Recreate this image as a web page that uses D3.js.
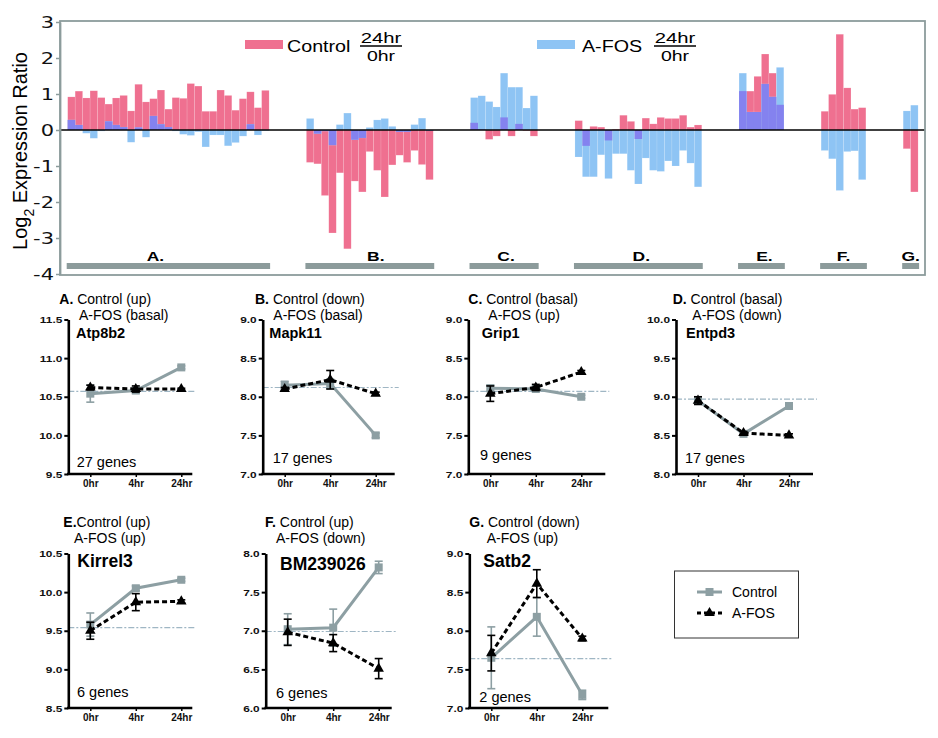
<!DOCTYPE html>
<html lang="en">
<head>
<meta charset="UTF-8">
<title>Control vs A-FOS expression</title>
<script src="https://cdn.jsdelivr.net/npm/d3@7"></script>
<style>
  html, body { margin: 0; padding: 0; background: #fff; }
  svg { display: block; font-family: "Liberation Sans", Arial, sans-serif; }
</style>
</head>
<body>
<svg id="canvas" width="938" height="738"></svg>
<script>
// ---------- data: top chart, log2(24hr/0hr) per gene ----------
let groupNames = ['A.', 'B.', 'C.', 'D.', 'E.', 'F.', 'G.'];

let controlA = [0.92, 1.08, 0.89, 1.09, 0.90, 0.72, 0.89, 0.96, 0.53, 1.27, 0.78, 0.87, 1.11, 0.58, 0.90, 0.88, 1.29, 1.22, 0.52, 0.52, 1.11, 0.96, 0.55, 0.87, 1.06, 0.62, 1.10];
let afosA    = [0.28, 0.14, -0.09, -0.23, -0.03, 0.24, 0.14, 0.08, -0.34, 0.07, -0.20, 0.39, 0.16, 0.08, -0.03, -0.12, -0.15, -0.05, -0.47, -0.14, -0.14, -0.44, -0.35, -0.17, 0.16, -0.14, -0.02];
let controlB = [-0.90, -0.94, -1.82, -2.86, -1.19, -3.30, -1.42, -1.72, -0.60, -1.12, -1.86, -0.97, -0.70, -0.90, -0.57, -0.96, -1.38];
let afosB    = [0.32, -0.10, -0.03, -0.42, 0.15, 0.47, -0.27, -0.22, 0.07, 0.28, 0.32, 0.10, -0.05, -0.05, 0.15, 0.33, -0.02];
let controlC = [0.20, 0.02, -0.26, -0.17, 0.35, -0.17, 0.17, -0.02, -0.17];
let afosC    = [0.90, 0.95, 0.79, 0.64, 1.58, 1.19, 1.19, 0.61, 0.95];
let controlD = [0.26, -0.44, 0.10, 0.08, -0.29, 0.02, 0.41, 0.24, -0.25, 0.33, 0.17, 0.35, 0.32, 0.32, 0.41, 0.08, 0.14];
let afosD    = [-0.75, -1.30, -1.30, -0.69, -1.35, -0.66, -0.66, -1.12, -1.50, -0.78, -1.12, -1.15, -0.86, -1.00, -0.57, -0.92, -1.58];
let controlE = [1.08, 1.08, 1.49, 2.11, 1.58, 0.70];
let afosE    = [1.58, 0.50, 0.50, 1.28, 0.92, 1.74];
let controlF = [0.52, 0.99, 2.66, 1.17, 0.58, 0.62];
let afosF    = [-0.57, -0.80, -1.68, -0.60, -0.58, -1.38];
let controlG = [-0.52, -1.72];
let afosG    = [0.53, 0.69];

let ratioTicks = [-4, -3, -2, -1, 0, 1, 2, 3];

// ---------- data: time course panels ----------
let times = ['0hr', '4hr', '24hr'];
let panelLetters = ['A.', 'B.', 'C.', 'D.', 'E.', 'F.', 'G.'];
let controlStates = ['Control (up)', 'Control (down)', 'Control (basal)', 'Control (basal)', 'Control (up)', 'Control (up)', 'Control (down)'];
let afosStates = ['A-FOS (basal)', 'A-FOS (basal)', 'A-FOS (up)', 'A-FOS (down)', 'A-FOS (up)', 'A-FOS (down)', 'A-FOS (up)'];
let geneNames = ['Atp8b2', 'Mapk11', 'Grip1', 'Entpd3', 'Kirrel3', 'BM239026', 'Satb2'];
let geneCounts = ['27 genes', '17 genes', '9 genes', '17 genes', '6 genes', '6 genes', '2 genes'];
let yDomains = [[9.5, 11.5], [7, 9], [7, 9], [8, 10], [8.5, 10.5], [6, 8], [7, 9]];
let baselines = [10.57, 8.12, 8.07, 8.97, 9.54, 6.99, 7.64];

let controlMeans = [[10.54, 10.58, 10.88], [8.15, 8.17, 7.50], [8.11, 8.10, 8.00], [8.95, 8.52, 8.88], [9.58, 10.05, 10.16], [7.02, 7.04, 7.82], [7.65, 8.18, 7.17]];
let controlErrs  = [[0.11, 0.03, 0.02], [0.05, 0.06, 0.03], [0.04, 0.02, 0.02], [0.03, 0.02, 0.02], [0.15, 0.03, 0.02], [0.20, 0.24, 0.08], [0.40, 0.25, 0.06]];
let afosMeans    = [[10.62, 10.60, 10.60], [8.10, 8.22, 8.04], [8.04, 8.12, 8.32], [8.95, 8.53, 8.50], [9.50, 9.87, 9.88], [6.98, 6.84, 6.51], [7.71, 8.61, 7.90]];
let afosErrs     = [[0.03, 0.04, 0.01], [0.02, 0.12, 0.02], [0.10, 0.04, 0.02], [0.05, 0.02, 0.02], [0.11, 0.11, 0.02], [0.17, 0.11, 0.13], [0.23, 0.18, 0.03]];

// ---------- colours ----------
let pink = '#ef7090';
let blue = '#8ec4f4';
let purple = '#8482ef';
let frameGray = '#8c9c9c';
let ctrlGray = '#8d9fa3';
let baseBlue = '#9fb6c4';

let svg = d3.select('#canvas');

// text helper, the original figure's lettering is horizontally wide
let wideText = (parent, x, y, str, size, sx) => {
    return parent.append('text')
        .attr('transform', 'translate(' + x + ',' + y + ') scale(' + sx + ',1)')
        .attr('font-size', size)
        .text(str);
};

// ================= top chart =================
let ratioChart = svg.append('g');
let yTop = d3.scaleLinear().domain([-4, 3]).range([274, 22]);

let groups = groupNames.map((name, i) => ({
    name: name,
    control: [controlA, controlB, controlC, controlD, controlE, controlF, controlG][i],
    afos: [afosA, afosB, afosC, afosD, afosE, afosF, afosG][i]
}));
let slot = 0;
groups.forEach(g => { g.start = slot; slot += g.control.length + 5; });
let totalSlots = slot - 5;

let xTop = d3.scaleLinear().domain([0, totalSlots]).range([67.7, 918.1]);
let bw = xTop(1) - xTop(0);

let bars = [];
groups.forEach(g => {
    g.control.forEach((c, j) => bars.push({ slot: g.start + j, c: c, a: g.afos[j] }));
});

let barRect = (sel, key) => sel
    .attr('x', d => xTop(d.slot))
    .attr('width', bw)
    .attr('y', d => yTop(Math.max(0, d[key])))
    .attr('height', d => Math.abs(yTop(d[key]) - yTop(0)));

ratioChart.append('g').selectAll('rect').data(bars).enter().append('rect')
    .call(barRect, 'c').attr('fill', pink)
    .attr('stroke', 'rgba(255,255,255,0.25)').attr('stroke-width', 0.5);
ratioChart.append('g').selectAll('rect').data(bars).enter().append('rect')
    .call(barRect, 'a').attr('fill', blue)
    .attr('stroke', 'rgba(255,255,255,0.25)').attr('stroke-width', 0.5);

// overlap of the two series
let overlap = bars.filter(d => d.c * d.a > 0).map(d => ({
    slot: d.slot,
    o: Math.sign(d.c) * Math.min(Math.abs(d.c), Math.abs(d.a))
}));
ratioChart.append('g').selectAll('rect').data(overlap).enter().append('rect')
    .call(barRect, 'o').attr('fill', purple);

// zero line
ratioChart.append('line')
    .attr('x1', 60).attr('x2', 925)
    .attr('y1', yTop(0)).attr('y2', yTop(0))
    .attr('stroke', '#000').attr('stroke-width', 1.6);

// frame
ratioChart.append('rect')
    .attr('x', 60).attr('y', 21).attr('width', 865).attr('height', 254)
    .attr('fill', 'none').attr('stroke', frameGray).attr('stroke-width', 1.8);

// y axis
let yAxisTop = ratioChart.append('g')
    .attr('transform', 'translate(60,0)')
    .call(d3.axisLeft(yTop).tickValues(ratioTicks).tickFormat(d => String(d)).tickSize(4).tickSizeOuter(0));
yAxisTop.select('.domain').attr('stroke', frameGray).attr('stroke-width', 1.8);
yAxisTop.selectAll('.tick line').attr('stroke', frameGray).attr('stroke-width', 1.5);
yAxisTop.selectAll('.tick text')
    .attr('font-size', 15)
    .attr('font-family', '"DejaVu Sans", sans-serif')
    .attr('fill', '#111')
    .attr('x', -6 / 1.4)
    .attr('dy', '0.36em')
    .attr('transform', 'scale(1.4,1)');

// y axis title
let yTitle = ratioChart.append('text')
    .attr('transform', 'translate(27,151) rotate(-90)')
    .attr('text-anchor', 'middle')
    .attr('font-size', 20);
yTitle.append('tspan').text('Log');
yTitle.append('tspan').attr('font-size', 14).attr('dy', 7).text('2');
yTitle.append('tspan').attr('dy', -7).text(' Expression Ratio');

// group label bars (label nudges follow the original lettering)
let labelNudge = [-13, 6, 2, 3, 3, 0, 0];
groups.forEach((g, i) => {
    let x0 = xTop(g.start) - 1;
    let x1 = xTop(g.start + g.control.length) + 1;
    ratioChart.append('rect')
        .attr('x', x0).attr('y', 263).attr('width', x1 - x0).attr('height', 6)
        .attr('fill', '#8c9b9b');
    wideText(ratioChart, (x0 + x1) / 2 + labelNudge[i], 261, g.name, 12.5, 1.4)
        .attr('font-weight', 'bold')
        .attr('text-anchor', 'middle');
});

// legend with 24hr/0hr fraction
let legendTop = [
    { label: 'Control', color: pink, x: 245, textX: 287, fracX: 381 },
    { label: 'A-FOS', color: blue, x: 537, textX: 582, fracX: 675 }
];
legendTop.forEach(l => {
    ratioChart.append('rect').attr('x', l.x).attr('y', 40).attr('width', 38).attr('height', 9).attr('fill', l.color);
    wideText(ratioChart, l.textX, 52, l.label, 16, 1.23);
    wideText(ratioChart, l.fracX, 43, '24hr', 15, 1.35).attr('text-anchor', 'middle');
    ratioChart.append('line')
        .attr('x1', l.fracX - 21).attr('x2', l.fracX + 21)
        .attr('y1', 46).attr('y2', 46)
        .attr('stroke', '#000').attr('stroke-width', 1.5);
    wideText(ratioChart, l.fracX, 61, '0hr', 15, 1.3).attr('text-anchor', 'middle');
});

// ================= time course panels =================
let panelLayout = [
    { ax: 68.3,  len: 124, top: 319.5, bottom: 474, tx: 59.3,  l2x: 79,    gx: 76,    cx: 76.7,  ty: 304, gy: 338,   cy: 466.5, gsize: 14.5 },
    { ax: 262.7, len: 132, top: 319.5, bottom: 474, tx: 255,   l2x: 273.3, gx: 269.3, cx: 272.7, ty: 304, gy: 338,   cy: 462.5, gsize: 14.5 },
    { ax: 468.3, len: 137, top: 319.5, bottom: 474, tx: 468.3, l2x: 488.3, gx: 481.7, cx: 480,   ty: 304, gy: 338,   cy: 460,   gsize: 14.5 },
    { ax: 676,   len: 137, top: 319.5, bottom: 474, tx: 672.7, l2x: 692.3, gx: 686,   cx: 685,   ty: 304, gy: 338,   cy: 462.5, gsize: 14.5 },
    { ax: 68.3,  len: 124, top: 553.5, bottom: 708, tx: 63.3,  l2x: 74,    gx: 77.3,  cx: 77,    ty: 527, gy: 566.5, cy: 697,   gsize: 17.5 },
    { ax: 265.7, len: 126, top: 553.5, bottom: 708, tx: 265,   l2x: 276,   gx: 280,   cx: 276,   ty: 527, gy: 570,   cy: 698,   gsize: 17.5 },
    { ax: 469.3, len: 139, top: 553.5, bottom: 708, tx: 469.3, l2x: 486.7, gx: 483.3, cx: 479.3, ty: 527, gy: 566.5, cy: 701.5, gsize: 17.5 }
];

let square = d3.symbol().type(d3.symbolSquare).size(64);
let triangle = d3.symbol().type(d3.symbolTriangle).size(48);

let drawSeries = (g, xp, y, means, errs, color, dashed, marker) => {
    let line = d3.line().x((d, i) => xp(times[i])).y(d => y(d));
    g.append('path')
        .attr('d', line(means))
        .attr('fill', 'none')
        .attr('stroke', color)
        .attr('stroke-width', 3)
        .attr('stroke-dasharray', dashed ? '5,3' : null);
    means.forEach((m, i) => {
        let x = xp(times[i]);
        let e = errs[i];
        if (e > 0) {
            g.append('line').attr('x1', x).attr('x2', x).attr('y1', y(m - e)).attr('y2', y(m + e))
                .attr('stroke', color).attr('stroke-width', 1.6);
            [m - e, m + e].forEach(v => {
                g.append('line').attr('x1', x - 4).attr('x2', x + 4).attr('y1', y(v)).attr('y2', y(v))
                    .attr('stroke', color).attr('stroke-width', 1.6);
            });
        }
        g.append('path')
            .attr('d', marker())
            .attr('transform', 'translate(' + x + ',' + y(m) + ')')
            .attr('fill', color);
    });
};

panelLayout.forEach((p, i) => {
    let g = svg.append('g');
    let [lo, hi] = yDomains[i];
    let y = d3.scaleLinear().domain([lo, hi]).range([p.bottom, p.top]);
    let xp = d3.scalePoint().domain(times).range([p.ax + 22, p.ax + 113]);

    // baseline
    g.append('line')
        .attr('x1', p.ax).attr('x2', p.ax + p.len + 4)
        .attr('y1', y(baselines[i])).attr('y2', y(baselines[i]))
        .attr('stroke', baseBlue).attr('stroke-width', 1.2)
        .attr('stroke-dasharray', '6,2,2,2');

    // y axis
    let ya = g.append('g')
        .attr('transform', 'translate(' + p.ax + ',0)')
        .call(d3.axisLeft(y).tickValues(d3.range(lo, hi + 0.01, 0.5)).tickFormat(d3.format('.1f')).tickSize(4).tickSizeOuter(0));
    ya.select('.domain').attr('stroke', '#000').attr('stroke-width', 2.6);
    ya.selectAll('.tick line').attr('stroke', '#000').attr('stroke-width', 2);
    ya.selectAll('.tick text')
        .attr('font-size', 9.5).attr('font-weight', 'bold').attr('fill', '#111')
        .attr('x', -6 / 1.25).attr('transform', 'scale(1.25,1)');

    // x axis
    let xa = g.append('g')
        .attr('transform', 'translate(0,' + p.bottom + ')')
        .call(d3.axisBottom(xp).tickSize(3).tickPadding(3).tickSizeOuter(0));
    xa.select('.domain').remove();
    xa.selectAll('.tick line').attr('stroke', '#000').attr('stroke-width', 1.5);
    xa.selectAll('.tick text').attr('font-size', 10).attr('font-weight', 'bold').attr('fill', '#111');
    g.append('line')
        .attr('x1', p.ax - 1.3).attr('x2', p.ax + p.len)
        .attr('y1', p.bottom).attr('y2', p.bottom)
        .attr('stroke', '#000').attr('stroke-width', 2.6);

    // series
    drawSeries(g, xp, y, controlMeans[i], controlErrs[i], ctrlGray, false, square);
    drawSeries(g, xp, y, afosMeans[i], afosErrs[i], '#000', true, triangle);

    // titles
    let t1 = g.append('text').attr('x', p.tx).attr('y', p.ty).attr('font-size', 14);
    t1.append('tspan').attr('font-weight', 'bold').text(panelLetters[i]);
    t1.append('tspan').text((i === 4 ? '' : ' ') + controlStates[i]);
    g.append('text').attr('x', p.l2x).attr('y', p.ty + 16).attr('font-size', 14).text(afosStates[i]);
    g.append('text').attr('x', p.gx).attr('y', p.gy).attr('font-size', p.gsize).attr('font-weight', 'bold').text(geneNames[i]);
    g.append('text').attr('x', p.cx).attr('y', p.cy).attr('font-size', 14.5).text(geneCounts[i]);
});

// legend for the panels
let lg = svg.append('g');
lg.append('rect')
    .attr('x', 674.5).attr('y', 571).attr('width', 124).attr('height', 67)
    .attr('fill', 'none').attr('stroke', '#333').attr('stroke-width', 1);
let legendItems = [
    { label: 'Control', color: ctrlGray, dashed: false, marker: square, y: 592 },
    { label: 'A-FOS', color: '#000', dashed: true, marker: triangle, y: 613 }
];
legendItems.forEach(l => {
    lg.append('line')
        .attr('x1', 697).attr('x2', 722).attr('y1', l.y).attr('y2', l.y)
        .attr('stroke', l.color).attr('stroke-width', 3)
        .attr('stroke-dasharray', l.dashed ? '4,3' : null);
    lg.append('path').attr('d', l.marker()).attr('transform', 'translate(709.5,' + l.y + ')').attr('fill', l.color);
    lg.append('text').attr('x', 732).attr('y', l.y + 5).attr('font-size', 14).text(l.label);
});
</script>
</body>
</html>
